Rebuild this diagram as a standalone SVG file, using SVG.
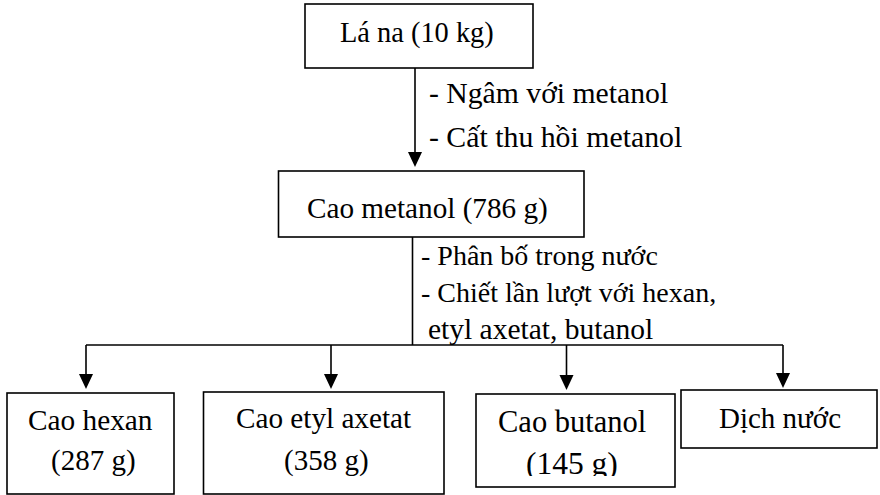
<svg xmlns="http://www.w3.org/2000/svg" width="880" height="495" viewBox="0 0 880 495">
<defs>
<style>
text{font-family:"Liberation Serif","Times New Roman",serif;font-size:29px;fill:#000}
.box{fill:#fff;stroke:#000;stroke-width:1.6}
.ln{fill:none;stroke:#000;stroke-width:1.6}
</style>
<clipPath id="cb"><rect x="476" y="394" width="199" height="82"/></clipPath>
</defs>
<rect width="880" height="495" fill="#fff"/>
<g id="connectors">
<line class="ln" x1="415" y1="68" x2="415" y2="152"/>
<path d="M408,152 L422,152 L415,167 Z" fill="#000"/>
<line class="ln" x1="412.5" y1="237" x2="412.5" y2="345"/>
<line class="ln" x1="86" y1="345" x2="783" y2="345"/>
<line class="ln" x1="86" y1="345" x2="86" y2="374"/>
<path d="M79,374 L93,374 L86,389 Z" fill="#000"/>
<line class="ln" x1="331" y1="345" x2="331" y2="374"/>
<path d="M324,374 L338,374 L331,389 Z" fill="#000"/>
<line class="ln" x1="566.5" y1="345" x2="566.5" y2="375"/>
<path d="M559.5,375 L573.5,375 L566.5,390 Z" fill="#000"/>
<line class="ln" x1="783" y1="345" x2="783" y2="373"/>
<path d="M776,373 L790,373 L783,388 Z" fill="#000"/>
<text x="429" y="103" style="font-size:29.7px">- Ngâm với metanol</text>
<text x="429" y="147" style="font-size:29.8px">- Cất thu hồi metanol</text>
<text x="421" y="265" style="font-size:28px">- Phân bố trong nước</text>
<text x="421" y="302" style="font-size:28px">- Chiết lần lượt với hexan,</text>
<text x="428" y="339" style="font-size:29.5px">etyl axetat, butanol</text>
</g>
<g id="node-la-na">
<rect class="box" x="305" y="4" width="228" height="64"/>
<text x="340" y="42" style="font-size:28.4px">Lá na (10 kg)</text>
</g>
<g id="node-cao-metanol">
<rect class="box" x="278.5" y="171" width="305.5" height="66"/>
<text x="307" y="218" style="font-size:29.2px">Cao metanol (786 g)</text>
</g>
<g id="node-cao-hexan">
<rect class="box" x="7" y="393" width="167" height="101"/>
<text x="28" y="430" style="font-size:29.3px">Cao hexan</text>
<text x="51" y="470">(287 g)</text>
</g>
<g id="node-cao-etyl-axetat">
<rect class="box" x="203.5" y="392" width="240.5" height="102"/>
<text x="236" y="428" style="font-size:29.2px">Cao etyl axetat</text>
<text x="284" y="470">(358 g)</text>
</g>
<g id="node-cao-butanol">
<rect class="box" x="476" y="394" width="199" height="93"/>
<g clip-path="url(#cb)">
<text x="498" y="432" style="font-size:30.5px">Cao butanol</text>
<text x="526" y="474" style="font-size:31.5px">(145 g)</text>
</g>
</g>
<g id="node-dich-nuoc">
<rect class="box" x="681" y="390" width="196" height="58"/>
<text x="719" y="428">Dịch nước</text>
</g>
</svg>
